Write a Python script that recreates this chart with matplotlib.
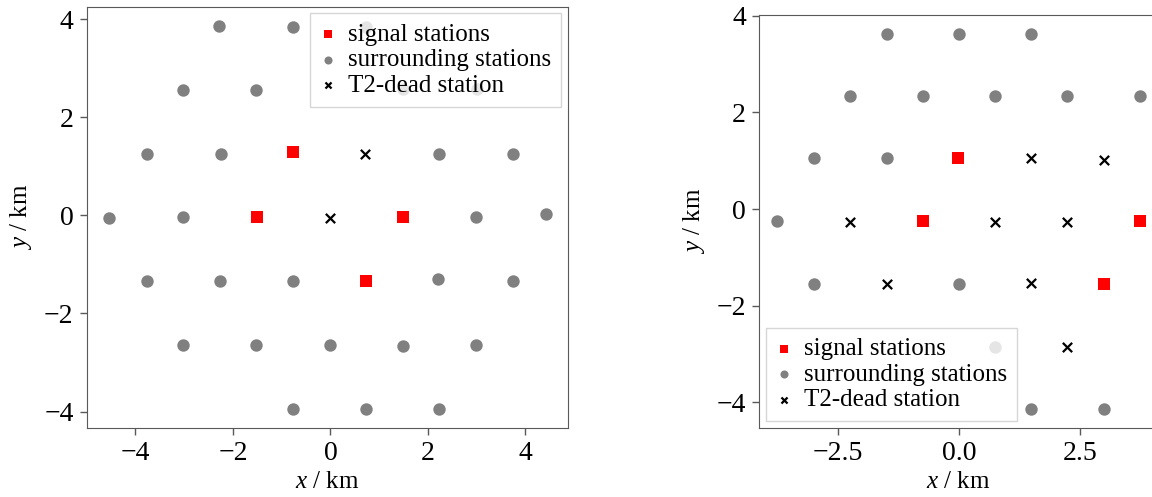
import matplotlib
matplotlib.use("Agg")
import matplotlib.pyplot as plt

plt.rcParams["font.family"] = ["Liberation Serif", "DejaVu Serif"]
plt.rcParams["mathtext.fontset"] = "custom"
plt.rcParams["mathtext.rm"] = "Liberation Serif"
plt.rcParams["mathtext.it"] = "Liberation Serif:italic"
plt.rcParams["axes.edgecolor"] = "0.35"
plt.rcParams["xtick.color"] = "0.35"
plt.rcParams["ytick.color"] = "0.35"
plt.rcParams["xtick.labelcolor"] = "black"
plt.rcParams["ytick.labelcolor"] = "black"

GREY = "#808080"

# left panel: station positions in km
left_signal_x = [-0.77, -1.50, 1.49, 0.735]
left_signal_y = [1.29, -0.034, -0.034, -1.33]
left_surr_x = [-2.29, -0.765, 0.735,
               -3.03, -1.52, 1.48, 3.00,
               -3.77, -2.24, 2.23, 3.74,
               -4.55, -3.02, 2.99, 4.42,
               -3.77, -2.27, -0.77, 2.20, 3.74,
               -3.02, -1.52, -0.015, 1.48, 2.99,
               -0.77, 0.735, 2.235]
left_surr_y = [3.86, 3.84, 3.85,
               2.56, 2.56, 2.58, 2.58,
               1.26, 1.26, 1.26, 1.26,
               -0.054, -0.034, -0.027, 0.02,
               -1.34, -1.34, -1.33, -1.29, -1.34,
               -2.65, -2.65, -2.65, -2.66, -2.65,
               -3.94, -3.94, -3.94]
left_dead_x = [0.70, -0.015]
left_dead_y = [1.26, -0.054]

# right panel
right_signal_x = [-0.01, -0.75, 3.74, 3.00]
right_signal_y = [1.05, -0.25, -0.25, -1.55]
right_surr_x = [-1.50, 0.0, 1.50,
                -2.25, -0.75, 0.74, 2.24, 3.74,
                -3.00, -1.50,
                -3.76,
                -3.00, 0.0,
                0.74,
                1.50, 3.00]
right_surr_y = [3.63, 3.63, 3.63,
                2.34, 2.34, 2.34, 2.34, 2.34,
                1.05, 1.05,
                -0.25,
                -1.55, -1.55,
                -2.85,
                -4.14, -4.14]
right_dead_x = [1.50, 3.00, -2.25, 0.75, 2.24, -1.50, 1.50, 2.24]
right_dead_y = [1.05, 1.02, -0.27, -0.26, -0.27, -1.55, -1.54, -2.85]

labels = ["signal stations", "surrounding stations", "T2-dead station"]

fig = plt.figure(figsize=(11.52, 4.97), dpi=100)
ax1 = fig.add_axes([0.0753, 0.1394, 0.4175, 0.8465])
ax2 = fig.add_axes([0.6591, 0.1394, 0.3458, 0.8304])


def draw(ax, sx, sy, gx, gy, dx, dy, loc):
    ax.scatter(sx, sy, marker="s", s=64, color="red", linewidths=0, label=labels[0], zorder=3)
    ax.scatter(gx, gy, marker="o", s=80, color=GREY, linewidths=0, label=labels[1], zorder=2)
    ax.scatter(dx, dy, marker="x", s=45, color="black", linewidths=1.6, label=labels[2], zorder=3)
    ax.set_xlabel("$x$ / km", fontsize=18, labelpad=4)
    ax.set_ylabel("$y$ / km", fontsize=18, labelpad=7)
    ax.tick_params(labelsize=20, length=5, width=1, pad=4.5)
    ax.set_yticks([-4, -2, 0, 2, 4])
    leg = ax.legend(loc=loc, fontsize=18, markerscale=0.65, fancybox=False,
                    edgecolor="0.8", framealpha=0.8, borderaxespad=0.25,
                    handlelength=0.7, handletextpad=0.45, labelspacing=0.12,
                    borderpad=0.4)
    leg.get_frame().set_linewidth(1.0)


draw(ax1, left_signal_x, left_signal_y, left_surr_x, left_surr_y,
     left_dead_x, left_dead_y, "upper right")
ax1.set_xticks([-4, -2, 0, 2, 4])

draw(ax2, right_signal_x, right_signal_y, right_surr_x, right_surr_y,
     right_dead_x, right_dead_y, "lower left")
ax2.set_xticks([-2.5, 0.0, 2.5])
ax2.set_xticklabels(["\u22122.5", "0.0", "2.5"])

fig.savefig("out.png", dpi=100)
